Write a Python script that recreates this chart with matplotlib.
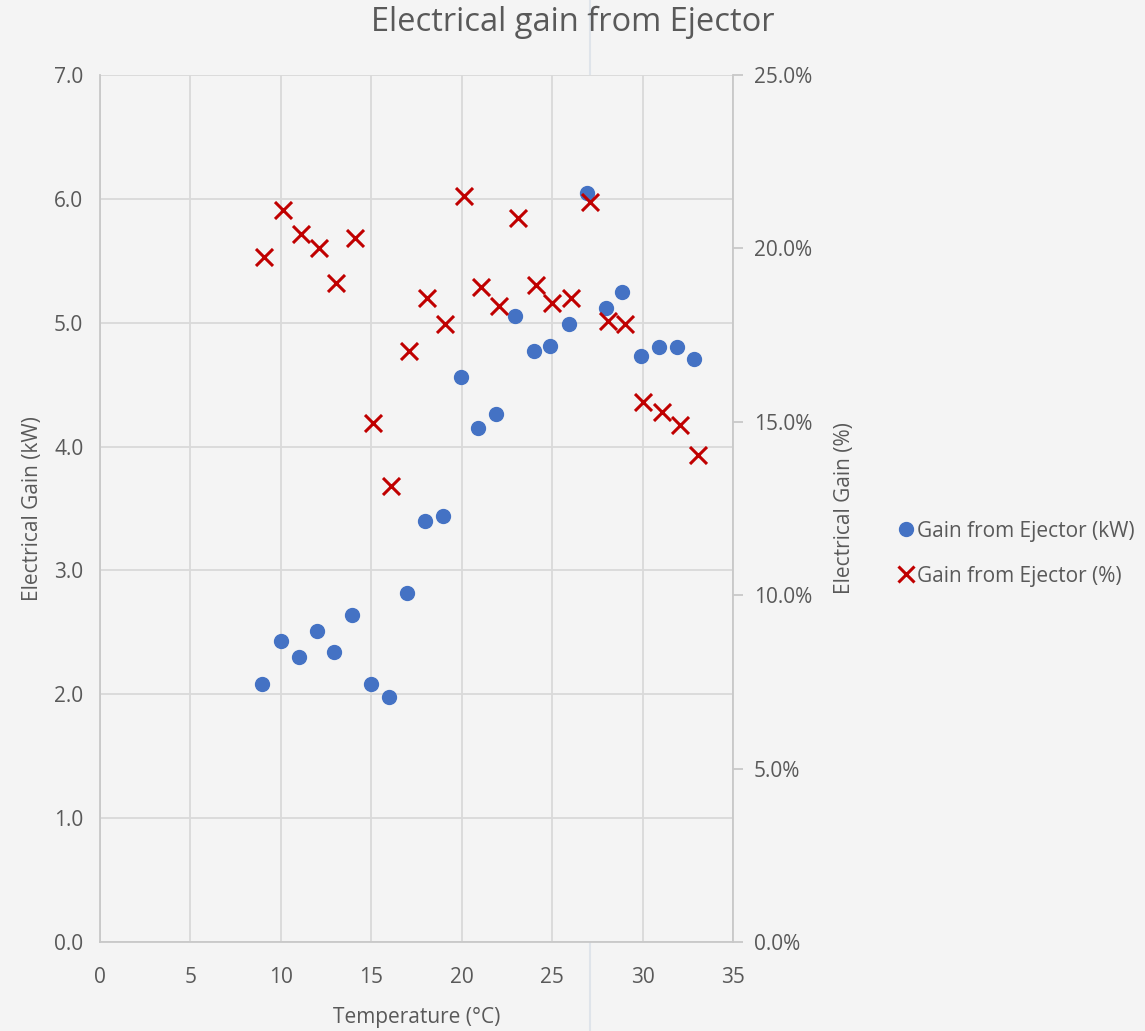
import matplotlib.pyplot as plt
from matplotlib.lines import Line2D
from matplotlib.ticker import FuncFormatter

# Temperatures (°C) and electrical gain from the ejector
temp_kw = [8.95, 10.0, 11.0, 12.0, 12.95, 13.95, 15.0, 16.0, 16.95, 17.95,
           18.95, 19.95, 20.9, 21.9, 22.95, 24.0, 24.9, 25.95, 26.9, 27.95,
           28.85, 29.9, 30.9, 31.9, 32.85]
gain_kw = [2.08, 2.43, 2.30, 2.51, 2.34, 2.64, 2.08, 1.98, 2.82, 3.40,
           3.44, 4.56, 4.15, 4.26, 5.05, 4.77, 4.81, 4.99, 6.05, 5.12,
           5.25, 4.73, 4.80, 4.80, 4.71]

temp_pct = [9.05, 10.1, 11.1, 12.1, 13.05, 14.1, 15.1, 16.1, 17.1, 18.1,
            19.1, 20.1, 21.05, 22.05, 23.1, 24.1, 25.0, 26.05, 27.1, 28.1,
            29.0, 30.05, 31.05, 32.05, 33.05]
gain_pct = [19.75, 21.1, 20.4, 20.0, 19.0, 20.3, 14.97, 13.15, 17.04, 18.57,
            17.82, 21.51, 18.89, 18.34, 20.88, 18.94, 18.43, 18.57, 21.34, 17.91,
            17.82, 15.57, 15.28, 14.91, 14.04]

bg = '#f4f4f4'
txt = '#595959'
grid_c = '#d9d9d9'
fam = ['Open Sans', 'DejaVu Sans']

fig = plt.figure(figsize=(11.45, 10.31), dpi=100, facecolor=bg)
ax = fig.add_axes([0.0873, 0.0863, 0.5529, 0.841])
ax.set_facecolor(bg)
ax2 = ax.twinx()

ax.set_xlim(0, 35)
ax.set_ylim(0, 7)
ax2.set_ylim(0, 25)
ax.set_xticks(range(0, 36, 5))
ax.set_yticks([i for i in range(8)])
ax2.set_yticks([0, 5, 10, 15, 20, 25])

ax.grid(True, color=grid_c, lw=1.3)
ax.set_axisbelow(True)
ax.spines['top'].set_visible(False)
ax2.spines['top'].set_visible(False)
ax2.spines['left'].set_visible(False)
ax2.spines['bottom'].set_visible(False)
ax.spines['right'].set_visible(False)
for s in ['left', 'bottom']:
    ax.spines[s].set_color('#c8c8c8')
    ax.spines[s].set_linewidth(1.3)
ax2.spines['right'].set_color('#c8c8c8')
ax2.spines['right'].set_linewidth(1.3)

ax.tick_params(axis='y', length=0, colors=txt, labelsize=15, pad=12)
ax.tick_params(axis='x', length=0, colors=txt, labelsize=15, pad=18)
ax2.tick_params(axis='y', length=7, width=1.3, colors=txt, labelsize=15, pad=8)
ax2.tick_params(axis='y', color='#c8c8c8')
ax.yaxis.set_major_formatter(FuncFormatter(lambda v, p: f'{v:.1f}'))
ax2.yaxis.set_major_formatter(FuncFormatter(lambda v, p: f'{v:.1f}%'))
for lab in ax.get_xticklabels() + ax.get_yticklabels() + ax2.get_yticklabels():
    lab.set_family(fam)

ax.scatter(temp_kw, gain_kw, s=100, color='#4472c4', zorder=3)
ax2.scatter(temp_pct, gain_pct, s=150, marker='x', color='#c00000',
            linewidths=2.2, zorder=3)

ax.set_xlabel('Temperature (°C)', fontsize=15, color=txt, family=fam, labelpad=14)
ax.set_ylabel('Electrical Gain (kW)', fontsize=15, color=txt, family=fam, labelpad=8)
ax2.set_ylabel('Electrical Gain (%)', fontsize=15, color=txt, family=fam, labelpad=16)

fig.text(0.5, 0.978, 'Electrical gain from Ejector', ha='center', va='center',
         fontsize=23.5, color=txt, family=fam)

handles = [
    Line2D([], [], ls='none', marker='o', ms=10, color='#4472c4',
           label='Gain from Ejector (kW)'),
    Line2D([], [], ls='none', marker='x', ms=12, mew=2.2, color='#c00000',
           label='Gain from Ejector (%)'),
]
leg = fig.legend(handles=handles, loc='center left', bbox_to_anchor=(0.775, 0.463),
                 frameon=False, handletextpad=0.0, handlelength=1.0,
                 labelspacing=1.15, borderaxespad=0.0,
                 prop={'family': fam, 'size': 15})
for t in leg.get_texts():
    t.set_color(txt)

# thin sheet border line running through the whole figure
fig.add_artist(Line2D([0.5153, 0.5153], [0, 1], transform=fig.transFigure,
                      color='#dfe4ea', lw=1.5, zorder=0))

fig.savefig('out.png', dpi=100, facecolor=bg)
